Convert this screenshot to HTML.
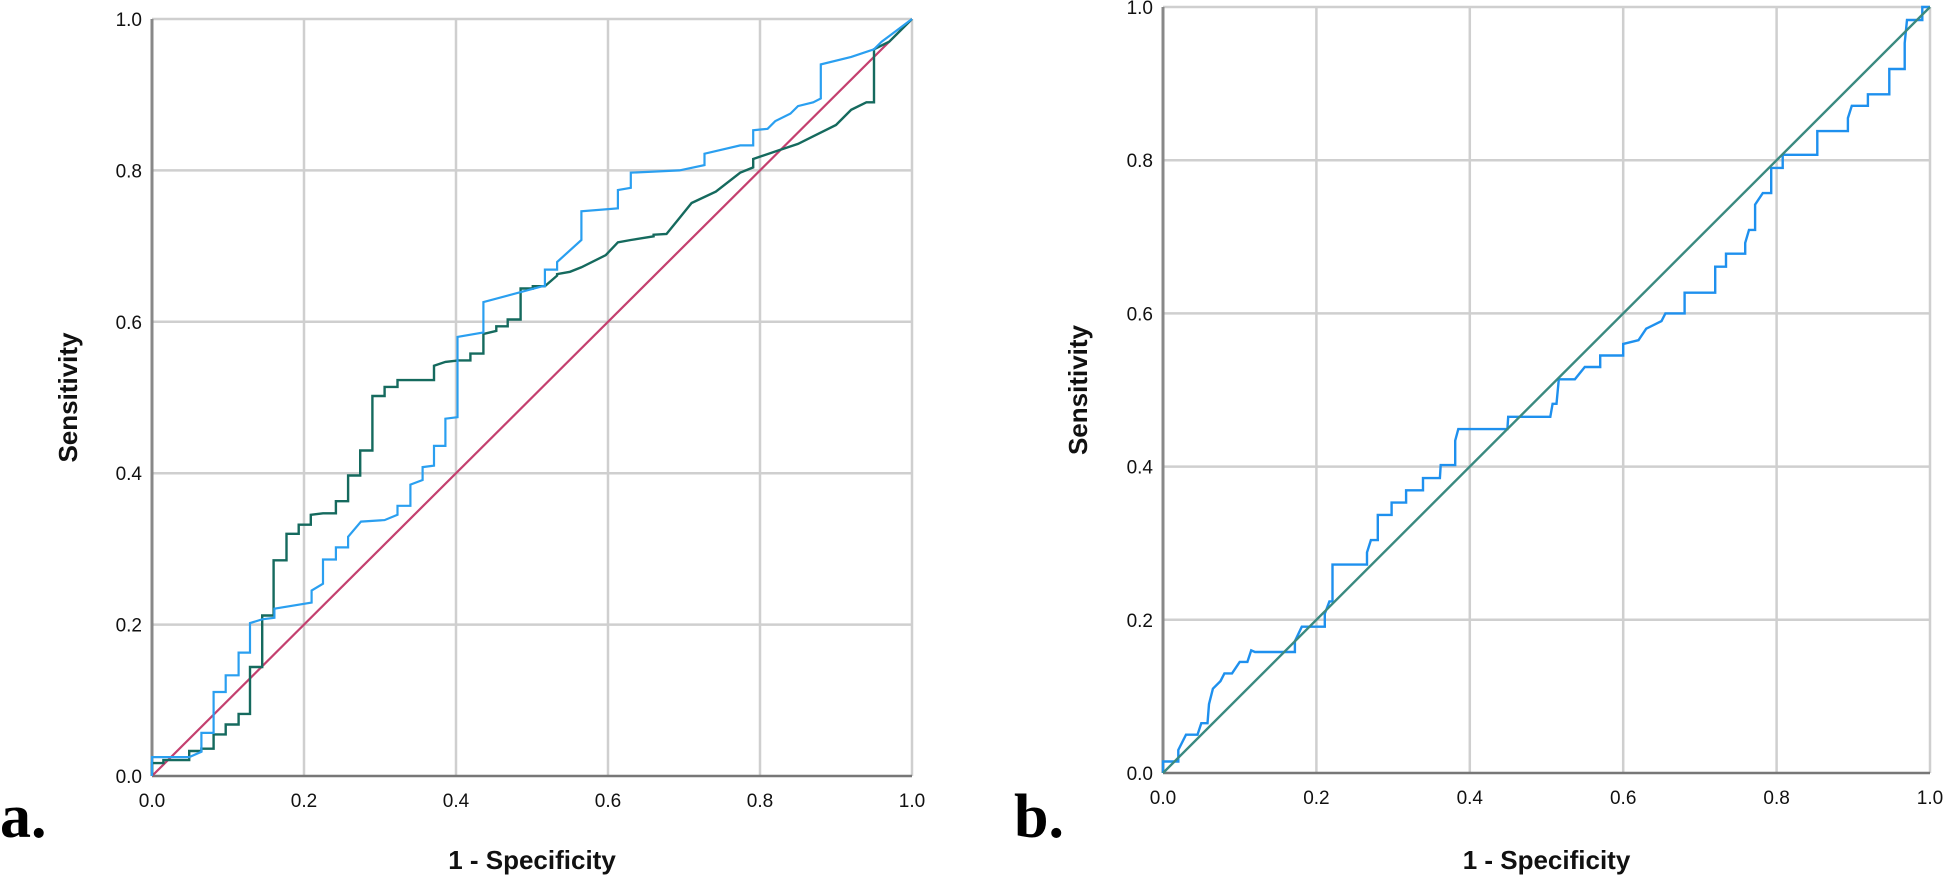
<!DOCTYPE html>
<html><head><meta charset="utf-8"><style>
body{margin:0;background:#fff;}
svg{display:block;}
text{font-family:"Liberation Sans",Arial,sans-serif;}
</style></head><body>
<svg id="chart" width="1948" height="883" viewBox="0 0 1948 883" xmlns="http://www.w3.org/2000/svg">
<rect width="1948" height="883" fill="#fff"/>
<g id="pa"></g>
<g id="pb"></g>
<text x="0" y="837" style="font-family:'Liberation Serif',serif;font-weight:bold;font-size:62px">a.</text>
<text x="1014" y="837" style="font-family:'Liberation Serif',serif;font-weight:bold;font-size:62px">b.</text>
</svg>
<script>
// Tick labels
const tickValues = [0, 0.2, 0.4, 0.6, 0.8, 1.0];
const tickLabels = ["0.0", "0.2", "0.4", "0.6", "0.8", "1.0"];

// Panel a – blue curve
const aBlueX = [0,0,0.049,0.065,0.065,0.081,0.081,0.097,0.097,0.114,0.114,0.129,0.129,0.145,0.161,0.161,0.210,0.210,0.225,0.225,0.242,0.242,0.258,0.258,0.275,0.306,0.323,0.323,0.340,0.340,0.356,0.356,0.371,0.371,0.386,0.386,0.402,0.402,0.436,0.436,0.514,0.517,0.517,0.533,0.533,0.565,0.565,0.613,0.613,0.630,0.630,0.694,0.727,0.727,0.774,0.791,0.791,0.81,0.82,0.84,0.85,0.87,0.88,0.88,0.92,0.95,0.96,0.98,1];
const aBlueY = [0,0.025,0.025,0.032,0.057,0.057,0.111,0.111,0.133,0.133,0.163,0.163,0.202,0.207,0.209,0.221,0.229,0.245,0.254,0.286,0.286,0.302,0.302,0.316,0.336,0.338,0.345,0.357,0.357,0.385,0.391,0.408,0.410,0.436,0.436,0.472,0.474,0.580,0.586,0.626,0.647,0.647,0.669,0.669,0.679,0.708,0.746,0.750,0.774,0.777,0.797,0.800,0.807,0.822,0.833,0.833,0.853,0.855,0.865,0.875,0.885,0.89,0.895,0.94,0.95,0.96,0.97,0.985,1];

// Panel a – dark green curve
const aGreenX = [0,0,0.015,0.015,0.049,0.049,0.065,0.065,0.081,0.081,0.097,0.097,0.114,0.114,0.129,0.129,0.145,0.145,0.160,0.160,0.177,0.177,0.193,0.193,0.209,0.209,0.225,0.242,0.242,0.258,0.258,0.274,0.274,0.290,0.290,0.306,0.306,0.323,0.323,0.371,0.371,0.386,0.403,0.419,0.419,0.436,0.436,0.453,0.453,0.468,0.468,0.485,0.485,0.501,0.501,0.517,0.533,0.533,0.550,0.565,0.565,0.597,0.597,0.613,0.613,0.630,0.660,0.660,0.677,0.694,0.694,0.710,0.710,0.742,0.742,0.774,0.774,0.791,0.791,0.82,0.85,0.87,0.90,0.92,0.94,0.95,0.95,0.97,0.98,1];
const aGreenY = [0,0.017,0.017,0.021,0.021,0.033,0.033,0.036,0.036,0.055,0.055,0.068,0.068,0.082,0.082,0.144,0.144,0.212,0.212,0.285,0.285,0.320,0.320,0.332,0.332,0.345,0.347,0.347,0.363,0.363,0.397,0.397,0.430,0.430,0.502,0.502,0.514,0.514,0.523,0.523,0.542,0.547,0.549,0.549,0.558,0.558,0.584,0.588,0.594,0.594,0.603,0.603,0.644,0.644,0.647,0.647,0.661,0.663,0.666,0.672,0.672,0.688,0.688,0.705,0.705,0.708,0.713,0.715,0.716,0.737,0.737,0.757,0.757,0.772,0.772,0.797,0.797,0.804,0.815,0.825,0.835,0.845,0.86,0.88,0.89,0.89,0.96,0.97,0.98,1];

// Panel b – blue curve
const bBlueX = [0,0,0.02,0.02,0.03,0.045,0.05,0.058,0.06,0.065,0.075,0.08,0.09,0.10,0.11,0.115,0.120,0.172,0.172,0.181,0.211,0.211,0.217,0.221,0.221,0.266,0.266,0.271,0.280,0.280,0.298,0.298,0.317,0.317,0.339,0.339,0.361,0.362,0.381,0.381,0.385,0.449,0.450,0.505,0.508,0.513,0.516,0.537,0.55,0.57,0.57,0.60,0.60,0.62,0.63,0.65,0.655,0.68,0.68,0.700,0.720,0.720,0.734,0.734,0.759,0.759,0.764,0.772,0.772,0.782,0.793,0.793,0.808,0.808,0.853,0.853,0.893,0.893,0.898,0.919,0.919,0.947,0.947,0.967,0.967,0.970,0.990,0.990,1];
const bBlueY = [0,0.015,0.015,0.03,0.05,0.05,0.065,0.065,0.09,0.11,0.12,0.13,0.13,0.145,0.145,0.16,0.158,0.158,0.172,0.191,0.191,0.208,0.224,0.224,0.272,0.272,0.288,0.304,0.304,0.337,0.337,0.353,0.353,0.369,0.369,0.385,0.385,0.402,0.402,0.434,0.449,0.449,0.465,0.465,0.482,0.482,0.514,0.514,0.53,0.53,0.545,0.545,0.56,0.565,0.58,0.59,0.60,0.60,0.627,0.627,0.627,0.661,0.661,0.678,0.678,0.692,0.709,0.709,0.742,0.757,0.757,0.790,0.790,0.807,0.807,0.838,0.838,0.855,0.871,0.871,0.886,0.886,0.919,0.919,0.953,0.983,0.983,1,1];

// Diagonal reference lines
const diagX = [0, 1];
const diagY = [0, 1];

const NS = "http://www.w3.org/2000/svg";
function mk(tag, attrs, parent){
  const e = document.createElementNS(NS, tag);
  for (const k in attrs) e.setAttribute(k, attrs[k]);
  parent.appendChild(e);
  return e;
}

function drawPanel(g, x0, x1, y0, y1, series, titleX, prefix){
  const sx = v => x0 + v * (x1 - x0);
  const sy = v => y0 - v * (y0 - y1);
  tickValues.forEach((t, i) => {
    if (i === 0) return;
    const gx = mk("line", {x1: sx(t), x2: sx(t), y1: sy(0), y2: sy(1), stroke: "#cfcfcf", "stroke-width": 2.5}, g);
    
    
    const gy = mk("line", {x1: sx(0), x2: sx(1), y1: sy(t), y2: sy(t), stroke: "#cfcfcf", "stroke-width": 2.5}, g);
    
    
  });
  const ax = mk("line", {x1: sx(0), x2: sx(1), y1: sy(0), y2: sy(0), stroke: "#777", "stroke-width": 2.5}, g);
  
  
  const ay = mk("line", {x1: sx(0), x2: sx(0), y1: sy(0), y2: sy(1), stroke: "#888", "stroke-width": 3}, g);
  
  
  tickValues.forEach((t, i) => {
    const tx = mk("text", {x: sx(t), y: sy(0) + 31, "font-size": 19, "text-anchor": "middle", fill: "#111"}, g);
    tx.textContent = tickLabels[i];
    
    
    const ty = mk("text", {x: sx(0) - 10, y: sy(t) + 7, "font-size": 19, "text-anchor": "end", fill: "#111"}, g);
    ty.textContent = tickLabels[i];
    
    
  });
  series.forEach(s => {
    const pts = s.x.map((v, i) => sx(v).toFixed(1) + "," + sy(s.y[i]).toFixed(1)).join(" ");
    const p = mk("polyline", {points: pts, fill: "none", stroke: s.color, "stroke-width": s.w}, g);
    
    
  });
  const xt = mk("text", {x: (sx(0) + sx(1)) / 2, y: 869, "font-size": 26, "font-weight": "bold", "text-anchor": "middle", fill: "#111"}, g);
  xt.textContent = "1 - Specificity";
  
  
  const yt = mk("text", {x: 0, y: 0, "font-size": 26, "font-weight": "bold", "text-anchor": "middle", fill: "#111", transform: "translate(" + titleX + "," + ((sy(0) + sy(1)) / 2) + ") rotate(-90)"}, g);
  yt.textContent = "Sensitivity";
  
  
}

drawPanel(document.getElementById("pa"), 152, 912, 776, 19, [
  {x: diagX, y: diagY, color: "#c4406f", w: 2.2, name: "panel-a-reference-line"},
  {x: aGreenX, y: aGreenY, color: "#156a5e", w: 2.4, name: "panel-a-green-roc-curve"},
  {x: aBlueX, y: aBlueY, color: "#2a9ff0", w: 2.2, name: "panel-a-blue-roc-curve"}
], 77, "panel-a");

drawPanel(document.getElementById("pb"), 1163, 1930, 773, 7, [
  {x: bBlueX, y: bBlueY, color: "#1e90ee", w: 2.4, name: "panel-b-blue-roc-curve"},
  {x: diagX, y: diagY, color: "#3a8a80", w: 2.4, name: "panel-b-reference-line"}
], 1087, "panel-b");
</script>
</body></html>
